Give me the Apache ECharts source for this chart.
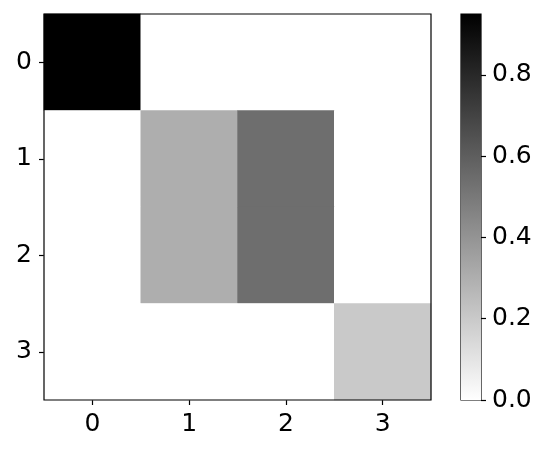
<!DOCTYPE html>
<html><head><meta charset="utf-8">
<script src="https://cdn.jsdelivr.net/npm/echarts@6/dist/echarts.min.js"></script>
<style>html,body{margin:0;padding:0;background:#fff}#c{width:550px;height:452px}</style>
</head><body><div id="c"></div>
<script>
const xCategories = ['0','1','2','3'];
const yCategories = ['0','1','2','3'];
// matrix rows (y) x columns (x)
const matrix = [
  [0.95, 0, 0, 0],
  [0, 0.30, 0.54, 0],
  [0, 0.30, 0.54, 0],
  [0, 0, 0, 0.20]
];
const vmin = 0, vmax = 0.95;
const colorbarTicks = [0, 0.2, 0.4, 0.6, 0.8];

const heatData = [];
matrix.forEach((row, r) => row.forEach((v, c) => heatData.push([c, r, v])));

const font = 'DejaVu Sans';
const fs = 25;
const chart = echarts.init(document.getElementById('c'), null, {renderer: 'canvas'});
chart.setOption({
  animation: false,
  backgroundColor: '#fff',
  grid: [
    {left: 44, top: 14, width: 387, height: 386, show: true, borderColor: '#000', borderWidth: 1.2, backgroundColor: 'transparent', z: 10},
    {left: 461, top: 14, width: 20, height: 386, show: true, borderColor: '#000', borderWidth: 1.2, backgroundColor: 'transparent'}
  ],
  xAxis: [
    {type: 'category', gridIndex: 0, data: xCategories, boundaryGap: true,
     axisLine: {show: false}, splitLine: {show: false},
     axisTick: {show: true, alignWithLabel: true, length: 5, lineStyle: {color: '#000', width: 1.2}},
     axisLabel: {color: '#000', fontFamily: font, fontSize: fs, margin: 12}},
    {type: 'category', gridIndex: 1, data: ['cb'], boundaryGap: true, show: false}
  ],
  yAxis: [
    {type: 'category', gridIndex: 0, data: yCategories, inverse: true, boundaryGap: true,
     axisLine: {show: false}, splitLine: {show: false},
     axisTick: {show: true, alignWithLabel: true, length: 5, lineStyle: {color: '#000', width: 1.2}},
     axisLabel: {color: '#000', fontFamily: font, fontSize: fs, margin: 12}},
    {type: 'value', gridIndex: 1, min: vmin, max: vmax, position: 'right',
     axisLine: {show: false}, splitLine: {show: false},
     axisTick: {show: true, length: 5, customValues: colorbarTicks, lineStyle: {color: '#000', width: 1.2}},
     axisLabel: {color: '#000', fontFamily: font, fontSize: fs, margin: 11, customValues: colorbarTicks,
                 formatter: v => v.toFixed(1)}}
  ],
  visualMap: {
    show: false, type: 'continuous', min: vmin, max: vmax, seriesIndex: 0,
    inRange: {color: ['#ffffff', '#000000']}
  },
  series: [
    {type: 'heatmap', xAxisIndex: 0, yAxisIndex: 0, data: heatData, itemStyle: {borderWidth: 0}},
    {type: 'bar', xAxisIndex: 1, yAxisIndex: 1, data: [vmax], barWidth: '100%',
     itemStyle: {color: {type: 'linear', x: 0, y: 0, x2: 0, y2: 1,
       colorStops: [{offset: 0, color: '#000000'}, {offset: 1, color: '#ffffff'}]}}}
  ]
});
</script></body></html>
